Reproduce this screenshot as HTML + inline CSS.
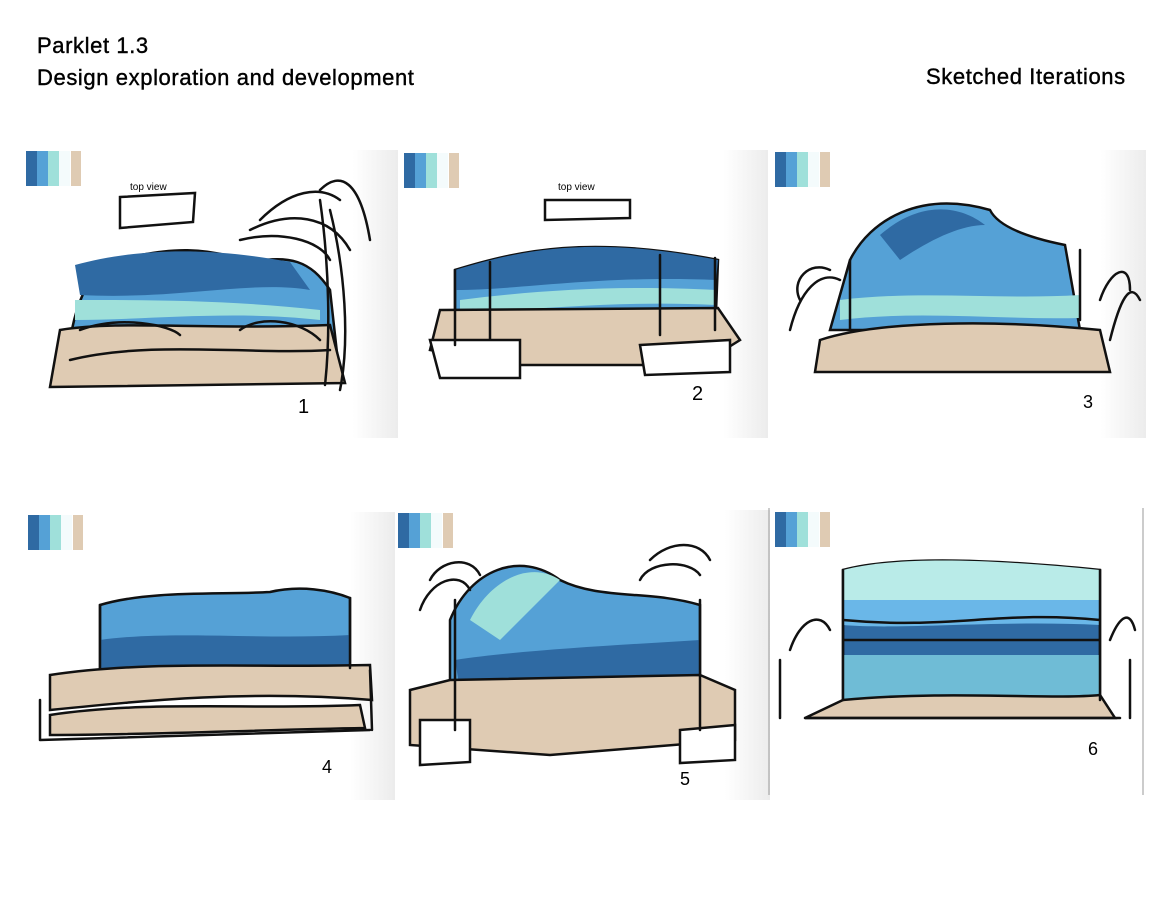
<!DOCTYPE html>
<html><head><meta charset="utf-8"><style>
html,body{margin:0;padding:0;background:#fff;width:1164px;height:900px;overflow:hidden}
.t{position:absolute;font-family:"Liberation Sans",sans-serif;font-size:22px;color:#000;line-height:32px;letter-spacing:0.6px;-webkit-text-stroke:0.4px #000}
</style></head><body>
<div class="t" style="left:37px;top:30px">Parklet 1.3</div>
<div class="t" style="left:37px;top:62px">Design exploration and development</div>
<div class="t" style="left:926px;top:61px">Sketched Iterations</div>
<svg width="1164" height="900" style="position:absolute;left:0;top:0" xmlns="http://www.w3.org/2000/svg">
<defs>
<linearGradient id="g" x1="0" x2="1"><stop offset="0.88" stop-color="#fff"/><stop offset="1" stop-color="#ececec"/></linearGradient>
<g id="sw"><rect x="0" y="0" width="11" height="35" fill="#2f6aa3"/><rect x="11" y="0" width="11" height="35" fill="#55a1d6"/><rect x="22" y="0" width="11" height="35" fill="#9fe0da"/><rect x="33" y="0" width="11" height="35" fill="#f4fbfc"/><rect x="45" y="0" width="10" height="35" fill="#dfcbb3"/></g>
</defs>
<rect x="20" y="150" width="378" height="288" fill="url(#g)"/>
<rect x="398" y="150" width="370" height="288" fill="url(#g)"/>
<rect x="768" y="150" width="378" height="288" fill="url(#g)"/>
<rect x="22" y="512" width="373" height="288" fill="url(#g)"/>
<rect x="395" y="510" width="375" height="290" fill="url(#g)"/>
<line x1="769" y1="508" x2="769" y2="795" stroke="#999"/>
<line x1="1143" y1="508" x2="1143" y2="795" stroke="#999"/>
<use href="#sw" x="26" y="151"/><use href="#sw" x="404" y="153"/><use href="#sw" x="775" y="152"/>
<use href="#sw" x="28" y="515"/><use href="#sw" x="398" y="513"/><use href="#sw" x="775" y="512"/>
<g font-family="Liberation Sans" fill="#000">
<text x="130" y="190" font-size="10">top view</text>
<text x="558" y="190" font-size="10">top view</text>
<text x="298" y="413" font-size="20">1</text>
<text x="692" y="400" font-size="20">2</text>
<text x="1083" y="408" font-size="18">3</text>
<text x="322" y="773" font-size="18">4</text>
<text x="680" y="785" font-size="18">5</text>
<text x="1088" y="755" font-size="18">6</text>
</g>
<g stroke="#111" stroke-width="2.5" fill="none" stroke-linecap="round">
<!-- panel 1 -->
<path d="M70 340 C80 280 100 260 140 255 C170 250 200 245 250 262 C290 255 310 260 330 290 L340 380 L60 385 Z" fill="#55a1d6"/>
<path d="M75 265 C130 250 200 245 290 262 L310 290 C250 280 180 300 80 295Z" fill="#2f6aa3" stroke="none"/>
<path d="M75 300 C150 300 230 300 320 310 L320 320 C230 310 150 320 75 320Z" fill="#9fe0da" stroke="none"/>
<path d="M60 330 C120 320 200 330 330 325 L345 383 L50 387 Z" fill="#dfcbb3"/>
<path d="M80 330 C120 315 170 325 180 335 M70 360 C150 340 250 355 330 350 M240 330 C260 315 300 320 320 340"/>
<path d="M120 197 L195 193 L193 222 L120 228Z"/>
<path d="M260 220 C290 190 320 185 340 200 M250 230 C290 210 330 215 350 250 M240 240 C280 230 320 240 330 260 M330 210 C345 270 350 340 340 390 M320 200 C330 270 330 340 325 385 M320 190 C340 170 360 180 370 240"/>
<!-- panel 2 -->
<path d="M455 270 C520 250 590 235 718 260 L716 312 L455 312 Z" fill="#55a1d6"/>
<path d="M455 270 C520 250 590 235 718 260 L716 280 C600 275 520 290 455 290Z" fill="#2f6aa3" stroke="none"/>
<path d="M460 300 C540 290 620 285 716 290 L716 305 C620 300 540 310 460 312Z" fill="#9fe0da" stroke="none"/>
<path d="M440 310 L718 308 L740 340 L700 365 L520 365 L430 350 Z" fill="#dfcbb3"/>
<path d="M430 340 L520 340 L520 378 L440 378Z M640 345 L730 340 L730 372 L645 375Z M455 270 L455 345 M490 262 L490 340 M660 255 L660 335 M715 258 L715 330" fill="#fff"/>
<path d="M545 200 L630 200 L630 218 L545 220Z"/>
<!-- panel 3 -->
<path d="M850 260 C870 220 920 190 990 210 C1000 230 1040 240 1065 245 L1080 330 L830 330 Z" fill="#55a1d6"/>
<path d="M880 235 C920 200 960 205 985 225 C960 225 930 240 900 260Z" fill="#2f6aa3" stroke="none"/>
<path d="M840 300 C920 290 1000 300 1080 295 L1080 318 C1000 320 920 310 840 320Z" fill="#9fe0da" stroke="none"/>
<path d="M820 340 C880 320 1000 320 1100 330 L1110 372 L815 372 Z" fill="#dfcbb3"/>
<path d="M850 260 L850 330 M1080 250 L1080 320 M800 300 C790 280 810 260 830 270 M1100 300 C1110 270 1130 260 1130 290 M790 330 C800 290 820 270 840 280 M1110 340 C1120 300 1130 280 1140 300"/>
<!-- panel 4 -->
<path d="M100 605 C150 590 220 595 270 592 C300 585 330 590 350 598 L350 668 L100 668 Z" fill="#55a1d6"/>
<path d="M100 640 C170 630 260 640 350 635 L350 668 L100 668Z" fill="#2f6aa3" stroke="none"/>
<path d="M50 675 C150 660 250 668 370 665 L372 700 C250 690 150 700 50 710Z" fill="#dfcbb3"/>
<path d="M50 715 C150 700 250 710 360 705 L365 728 C250 730 150 735 50 735Z" fill="#dfcbb3"/>
<path d="M100 605 L100 668 M350 598 L350 668 M40 740 L370 730 M40 700 L40 740 M370 670 L372 730"/>
<!-- panel 5 -->
<path d="M450 620 C470 570 520 550 560 580 C600 600 650 590 700 605 L700 680 L450 690 Z" fill="#55a1d6"/>
<path d="M470 620 C490 580 530 560 560 580 C540 600 520 620 500 640Z" fill="#9fe0da" stroke="none"/>
<path d="M455 660 C520 650 620 645 700 640 L700 680 L460 690Z" fill="#2f6aa3" stroke="none"/>
<path d="M410 690 L450 680 L700 675 L735 690 L735 740 L550 755 L410 745 Z" fill="#dfcbb3"/>
<path d="M420 720 L470 720 L470 762 L420 765Z M680 730 L735 725 L735 760 L680 763Z M455 600 L455 730 M700 600 L700 730" fill="#fff"/>
<path d="M430 580 C440 560 470 555 480 575 M640 580 C650 560 690 560 700 575 M420 610 C430 580 460 570 470 590 M650 560 C670 540 700 540 710 560"/>
<!-- panel 6 -->
<path d="M843 570 C900 555 1000 560 1100 570 L1100 700 L843 700 Z" fill="#2f6aa3"/>
<path d="M843 570 C900 555 1000 560 1100 570 L1100 600 L843 600 Z" fill="#b9ebe8" stroke="none"/>
<path d="M843 600 L1100 600 L1100 625 C1000 620 900 630 843 625Z" fill="#6ab7e8" stroke="none"/>
<path d="M843 655 L1100 655 L1100 700 L843 700Z" fill="#6fbcd6" stroke="none"/>
<path d="M843 700 C950 690 1050 700 1100 695 L1115 718 L805 718 Z" fill="#dfcbb3"/>
<path d="M843 570 L843 700 M1100 570 L1100 700 M843 640 L1100 640 M843 620 C950 630 1000 610 1100 620 M805 718 L1120 718 M780 660 L780 718 M1130 660 L1130 718 M790 650 C800 620 820 610 830 630 M1110 640 C1120 615 1130 610 1135 630"/>
</g>
</svg>
</body></html>
